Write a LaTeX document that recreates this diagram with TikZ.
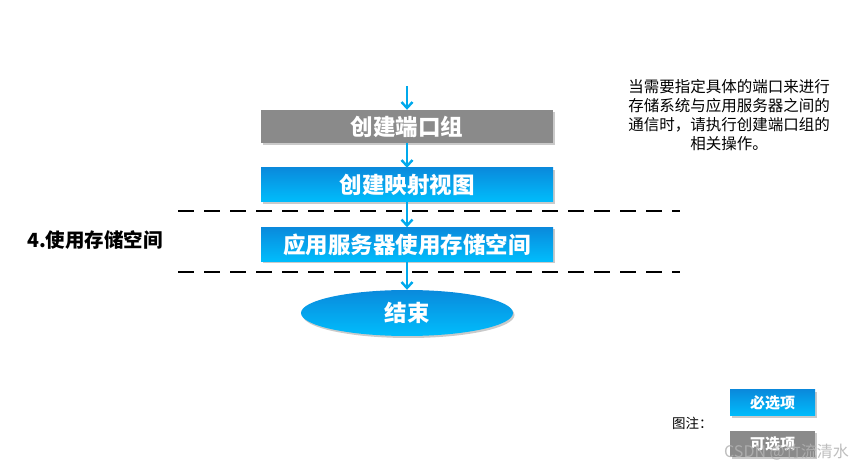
\documentclass[tikz,border=0pt]{standalone}
\usepackage{fontspec}
\setmainfont{Noto Sans CJK SC}
\usetikzlibrary{arrows.meta,shapes.geometric,shadows}
\definecolor{boxtop}{HTML}{0A8ADC}
\definecolor{boxbot}{HTML}{00BDFC}
\definecolor{grayfill}{HTML}{8A8A8A}
\definecolor{arrowc}{HTML}{00A9EC}
\tikzset{
  shadowed/.style={drop shadow={shadow xshift=1.5pt, shadow yshift=-2pt, opacity=0.35, fill=black!60}},
  bluebox/.style={shadowed, draw=none, top color=boxtop, bottom color=boxbot, minimum width=292pt, minimum height=34pt, inner sep=0pt, text=white, font=\bfseries\fontsize{22.5}{22.5}\selectfont},
  graybox/.style={shadowed, draw=none, fill=grayfill, minimum width=292pt, minimum height=33pt, inner sep=0pt, text=white, font=\bfseries\fontsize{22.5}{22.5}\selectfont},
  endshape/.style={shadowed, ellipse, draw=none, top color=boxtop, bottom color=boxbot, minimum width=212pt, minimum height=46pt, inner sep=0pt, text=white, font=\bfseries\fontsize{22.5}{22.5}\selectfont},
  legblue/.style={shadowed, draw=none, top color=boxtop, bottom color=boxbot, minimum width=85pt, minimum height=26pt, inner sep=0pt, text=white, font=\bfseries\fontsize{15}{15}\selectfont},
  leggray/.style={shadowed, draw=none, fill=grayfill, minimum width=85pt, minimum height=26pt, inner sep=0pt, text=white, font=\bfseries\fontsize{15}{15}\selectfont},
  flow/.style={draw=arrowc, line width=2.4pt, -{Straight Barb[length=6pt,width=11pt,line width=2.4pt]}},
  sep/.style={draw=black, line width=2pt, dash pattern=on 16pt off 10pt},
}
\begin{document}
\begin{tikzpicture}[x=1pt,y=-1pt]
\useasboundingbox (0,0) rectangle (863,470);
% separators
\coordinate (d1l) at (178,211);
\coordinate (d1r) at (680,211);
\coordinate (d2l) at (178,272);
\coordinate (d2r) at (680,272);
\draw[sep] (d1l) -- (d1r);
\draw[sep] (d2l) -- (d2r);
% flow
\coordinate (start) at (407,86);
\node[graybox] (g) at (407,126.5) {创建端口组};
\node[bluebox] (b1) at (407,185) {创建映射视图};
\node[bluebox] (b2) at (407,244.5) {应用服务器使用存储空间};
\node[endshape] (e) at (407,313) {结束};
\draw[flow] (start) -- (g.north);
\draw[flow] (g.south) -- (b1.north);
\draw[flow] (b1.south) -- (b2.north);
\draw[flow] (b2.south) -- (e.north);
% labels
\node[font=\bfseries\fontsize{19.5}{19.5}\selectfont, anchor=west, inner sep=0pt] (lab) at (27,240) {4.使用存储空间};
\node[align=center, font=\fontsize{15.5}{19}\selectfont, inner sep=0pt] (note) at (729,115) {当需要指定具体的端口来进行\\存储系统与应用服务器之间的\\通信时，请执行创建端口组的\\相关操作。};
% legend
\node[font=\fontsize{13.5}{13.5}\selectfont, anchor=west, inner sep=0pt] (legt) at (672,423) {图注：};
\node[legblue] (l1) at (772.5,403) {必选项};
\node[leggray] (l2) at (772.5,444) {可选项};
\node[font=\fontsize{16}{16}\selectfont, text=black!30, opacity=0.85, anchor=east, inner sep=0pt] (wm) at (849,452) {CSDN @竹流清水};
\end{tikzpicture}
\end{document}
